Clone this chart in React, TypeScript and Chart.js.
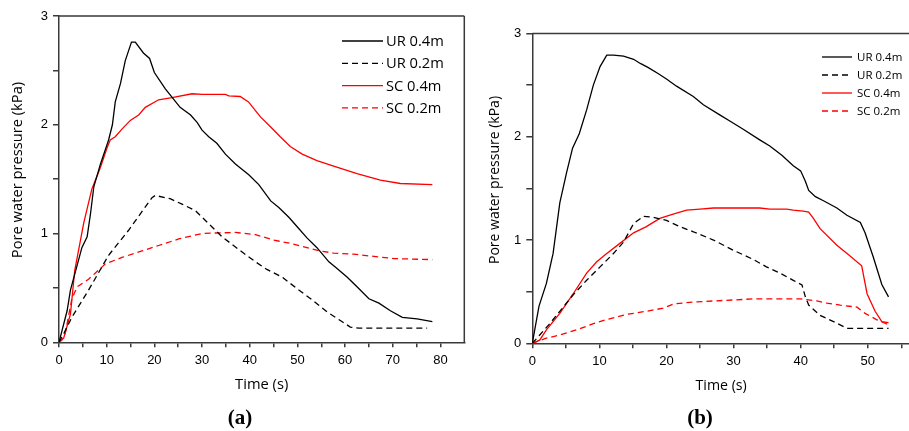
import React, { useEffect, useRef } from "react";
import { Chart, registerables } from "chart.js";

Chart.register(...registerables);

// ---------- Panel (a) data ----------
const aUR04_t = [0, 1.7, 2.4, 4.8, 5.9, 6.6, 7.3, 8.7, 10.4, 11.2, 11.8, 12.9, 13.9, 15.2, 16, 17.7, 19, 20, 22.3, 25.4, 27.6, 29, 30, 31.4, 33.1, 34.9, 37, 38.1, 39.8, 41.9, 44.4, 46.1, 48.2, 50, 52, 54.1, 56.6, 58, 60.4, 62.5, 65, 67.1, 69.5, 72, 75.1, 78.3];
const aUR04_p = [0, 0.29, 0.48, 0.87, 0.97, 1.18, 1.43, 1.64, 1.86, 2.0, 2.21, 2.38, 2.59, 2.76, 2.76, 2.66, 2.61, 2.48, 2.33, 2.16, 2.09, 2.02, 1.95, 1.89, 1.83, 1.73, 1.64, 1.6, 1.54, 1.45, 1.3, 1.24, 1.15, 1.06, 0.96, 0.87, 0.74, 0.69, 0.6, 0.51, 0.4, 0.36, 0.29, 0.23, 0.215, 0.19];

const aUR02_t = [0, 1, 2.7, 6.2, 10.4, 14.6, 19.5, 20.2, 23.3, 25.8, 28.6, 31.4, 34.2, 38.4, 41.2, 43.6, 46.8, 50, 53.1, 56.2, 59, 61.1, 62.9, 77.2];
const aUR02_p = [0, 0.08, 0.23, 0.48, 0.8, 1.03, 1.33, 1.35, 1.32, 1.27, 1.21, 1.09, 0.97, 0.83, 0.74, 0.67, 0.6, 0.49, 0.39, 0.28, 0.2, 0.14, 0.13, 0.13];

const aSC04_t = [0, 1, 2.4, 3.3, 5.2, 6.9, 8.7, 10.1, 10.75, 11.8, 13.2, 14.95, 16.7, 18.1, 20.9, 23.7, 27.9, 30, 34.9, 35.6, 38, 39.75, 41.2, 42.3, 44.4, 46.4, 48.5, 51, 54.1, 57.6, 62.5, 67.4, 71.6, 78.3];
const aSC04_p = [0, 0.04, 0.26, 0.66, 1.1, 1.41, 1.61, 1.79, 1.86, 1.89, 1.96, 2.04, 2.09, 2.16, 2.23, 2.25, 2.285, 2.28, 2.28, 2.265, 2.26, 2.21, 2.13, 2.07, 1.98, 1.89, 1.8, 1.73, 1.67, 1.62, 1.55, 1.49, 1.46, 1.45];

const aSC02_t = [0, 0.6, 1.3, 2.7, 3.8, 6.2, 9.7, 13.2, 17.4, 20.9, 25.1, 30, 32.8, 37, 41.2, 45, 48.5, 52, 54.8, 57.6, 61.8, 66, 70.2, 78.3];
const aSC02_p = [0, 0.02, 0.08, 0.4, 0.51, 0.58, 0.72, 0.78, 0.84, 0.89, 0.95, 1.0, 1.005, 1.01, 0.99, 0.94, 0.91, 0.87, 0.84, 0.82, 0.81, 0.79, 0.77, 0.76];

// ---------- Panel (b) data ----------
const bUR04_t = [0, 1, 2.1, 3.1, 4.1, 5.1, 6.0, 7.0, 8.1, 9.1, 10.1, 11.1, 12.1, 13.6, 15.1, 16.1, 17.3, 18.8, 20, 21.5, 24, 25.5, 28, 29.5, 31.5, 33.9, 35.4, 37.2, 38.9, 40, 40.7, 41.2, 42.2, 43.4, 45.4, 46.9, 48.9, 49.6, 50.8, 52.1, 53.1];
const bUR04_p = [0, 0.36, 0.58, 0.87, 1.36, 1.65, 1.89, 2.03, 2.26, 2.5, 2.68, 2.79, 2.79, 2.78, 2.75, 2.71, 2.67, 2.61, 2.56, 2.49, 2.39, 2.31, 2.21, 2.15, 2.07, 1.97, 1.91, 1.82, 1.72, 1.67, 1.57, 1.48, 1.42, 1.38, 1.31, 1.24, 1.17, 1.07, 0.84, 0.57, 0.45];

const bUR02_t = [0, 1.1, 2.6, 4.1, 6.1, 8.1, 10.1, 12.1, 13.6, 15.1, 16.6, 18.0, 20, 22, 24, 27, 30, 33, 34.9, 36.9, 38.9, 40.2, 40.7, 41.2, 42.9, 44.9, 46.9, 48.9, 53.1];
const bUR02_p = [0, 0.08, 0.19, 0.31, 0.47, 0.61, 0.74, 0.87, 0.98, 1.16, 1.23, 1.22, 1.19, 1.13, 1.08, 1.0, 0.9, 0.81, 0.74, 0.68, 0.61, 0.565, 0.45, 0.37, 0.27, 0.21, 0.145, 0.145, 0.145];

const bSC04_t = [0, 1.1, 2.1, 4.1, 6.1, 8.1, 9.6, 11.1, 13.1, 15.1, 17.0, 19.0, 21.0, 23.0, 25, 27, 29, 33.9, 35.4, 37.9, 38.9, 40.4, 41.2, 41.9, 42.9, 45.4, 47.1, 49.1, 49.9, 51.1, 52.1, 53.1];
const bSC04_p = [0, 0.03, 0.13, 0.29, 0.48, 0.68, 0.79, 0.87, 0.97, 1.07, 1.13, 1.21, 1.25, 1.29, 1.3, 1.31, 1.31, 1.31, 1.3, 1.3, 1.29, 1.28, 1.27, 1.21, 1.11, 0.95, 0.86, 0.75, 0.48, 0.31, 0.21, 0.2];

const bSC02_t = [0, 2.1, 4.1, 6.6, 9.1, 11.1, 14.1, 17, 19.5, 21, 24, 27, 30, 33, 36.9, 40, 42.4, 43.9, 45.9, 48.4, 49.6, 51.3, 53.1];
const bSC02_p = [0, 0.05, 0.08, 0.13, 0.19, 0.23, 0.28, 0.31, 0.34, 0.38, 0.4, 0.41, 0.42, 0.43, 0.43, 0.43, 0.41, 0.39, 0.37, 0.35, 0.29, 0.23, 0.18];

const seriesLabels = ["UR 0.4m", "UR 0.2m", "SC 0.4m", "SC 0.2m"];
const seriesColors = ["#000000", "#000000", "#ff0000", "#ff0000"];
const seriesDashed = [false, true, false, true];

const xTitle = "Time (s)";
const yTitle = "Pore water pressure (kPa)";

const AXIS_COLOR = "#3a3a3a";
const TICK_FONT = { family: "'Liberation Sans', Arial, sans-serif", size: 13 };

const framePlugin = {
  id: "frame",
  afterDraw(chart: any, _args: any, opts: any) {
    const { ctx, chartArea } = chart;
    const { left, right, top, bottom } = chartArea;
    ctx.save();
    ctx.strokeStyle = AXIS_COLOR;
    ctx.lineWidth = 1.5;
    ctx.beginPath();
    ctx.moveTo(left, top);
    ctx.lineTo(right, top);
    if (opts.right) {
      ctx.moveTo(right, top);
      ctx.lineTo(right, bottom);
    }
    ctx.stroke();
    ctx.restore();
  },
};

const legendPlugin = {
  id: "innerLegend",
  afterDraw(chart: any, _args: any, opts: any) {
    const { ctx } = chart;
    ctx.save();
    ctx.font = `${opts.fontSize}px 'Open Sans', sans-serif`;
    ctx.textBaseline = "middle";
    ctx.textAlign = "left";
    chart.data.datasets.forEach((ds: any, i: number) => {
      const y = opts.y + i * opts.gap;
      ctx.strokeStyle = ds.borderColor;
      ctx.lineWidth = 1.3;
      ctx.setLineDash(ds.borderDash || []);
      ctx.beginPath();
      ctx.moveTo(opts.x1, y);
      ctx.lineTo(opts.x2, y);
      ctx.stroke();
      ctx.setLineDash([]);
      ctx.fillStyle = "#000";
      ctx.fillText(ds.label, opts.tx, y + 1);
    });
    ctx.restore();
  },
};

const textPlugin = {
  id: "panelText",
  afterDraw(chart: any, _args: any, opts: any) {
    const { ctx } = chart;
    ctx.save();
    // y-axis title
    ctx.fillStyle = "#000";
    ctx.font = `${opts.yFont}px 'Open Sans', sans-serif`;
    ctx.textAlign = "center";
    ctx.textBaseline = "middle";
    ctx.translate(opts.yx, opts.yy);
    ctx.rotate(-Math.PI / 2);
    ctx.fillText(opts.yText, 0, 0);
    ctx.restore();
    ctx.save();
    ctx.fillStyle = "#000";
    ctx.font = "bold 21px 'Liberation Serif', 'Times New Roman', serif";
    ctx.textAlign = "center";
    ctx.textBaseline = "alphabetic";
    ctx.fillText(opts.label, opts.lx, opts.ly);
    ctx.restore();
  },
};

type PanelProps = {
  left: number;
  width: number;
  times: number[][];
  values: number[][];
  xMax: number;
  xLast: number;
  padTop: number;
  padRight: number;
  yWidth: number;
  xHeight: number;
  titleFont: number;
  titlePadBottom: number;
  legend: any;
  text: any;
  rightBorder: boolean;
};

function Panel(p: PanelProps) {
  const ref = useRef<HTMLCanvasElement | null>(null);
  useEffect(() => {
    if (!ref.current) return;
    const datasets = seriesLabels.map((label, i) => ({
      label,
      data: p.times[i].map((t, k) => ({ x: t, y: p.values[i][k] })),
      borderColor: seriesColors[i],
      backgroundColor: seriesColors[i],
      borderDash: seriesDashed[i] ? [6, 4] : [],
      borderWidth: 1.3,
      pointRadius: 0,
      tension: 0,
      fill: false,
    }));
    const isInt = (v: number) => Math.abs(v - Math.round(v)) < 1e-6;
    const chart = new Chart(ref.current, {
      type: "line",
      data: { datasets },
      plugins: [framePlugin, legendPlugin, textPlugin],
      options: {
        animation: false,
        responsive: false,
        maintainAspectRatio: false,
        layout: { padding: { top: p.padTop, right: p.padRight, left: 0, bottom: 0 } },
        plugins: {
          legend: { display: false },
          tooltip: { enabled: false },
          frame: { right: p.rightBorder },
          innerLegend: p.legend,
          panelText: p.text,
        } as any,
        scales: {
          x: {
            type: "linear",
            min: 0,
            max: p.xMax,
            afterFit: (s: any) => {
              s.height = p.xHeight;
            },
            afterBuildTicks: (s: any) => {
              s.ticks = s.ticks.filter((t: any) => t.value <= p.xLast + 1e-6);
            },
            ticks: {
              stepSize: 5,
              includeBounds: false,
              autoSkip: false,
              maxRotation: 0,
              padding: 5,
              color: "#000",
              font: TICK_FONT,
              callback: (v: any) => (Math.abs(v / 10 - Math.round(v / 10)) < 1e-6 ? String(Math.round(v)) : ""),
            },
            grid: { drawOnChartArea: false, drawTicks: true, tickLength: 5, color: AXIS_COLOR, lineWidth: 1.5 },
            border: { display: true, color: AXIS_COLOR, width: 1.5 },
            title: {
              display: true,
              text: xTitle,
              color: "#000",
              font: { family: "'Open Sans', sans-serif", size: p.titleFont },
              padding: { top: 0, bottom: p.titlePadBottom },
            },
          },
          y: {
            type: "linear",
            min: 0,
            max: 3,
            afterFit: (s: any) => {
              s.width = p.yWidth;
            },
            ticks: {
              stepSize: 0.5,
              includeBounds: false,
              autoSkip: false,
              padding: 5,
              color: "#000",
              font: TICK_FONT,
              callback: (v: any) => (isInt(v) ? String(Math.round(v)) : ""),
            },
            grid: { drawOnChartArea: false, drawTicks: true, tickLength: 6, color: AXIS_COLOR, lineWidth: 1.5 },
            border: { display: true, color: AXIS_COLOR, width: 1.5 },
          },
        },
      } as any,
    });
    return () => chart.destroy();
  }, []);
  return (
    <canvas
      ref={ref}
      width={p.width}
      height={431}
      style={{ position: "absolute", left: p.left, top: 0, width: p.width, height: 431 }}
    />
  );
}

export default function App() {
  return (
    <div
      style={{
        position: "fixed",
        left: 0,
        top: 0,
        width: 909,
        height: 431,
        overflow: "hidden",
        background: "#fff",
      }}
    >
      <Panel
        left={0}
        width={466}
        times={[aUR04_t, aUR02_t, aSC04_t, aSC02_t]}
        values={[aUR04_p, aUR02_p, aSC04_p, aSC02_p]}
        xMax={85}
        xLast={80}
        padTop={16}
        padRight={1.7}
        yWidth={59}
        xHeight={88.7}
        titleFont={14.7}
        titlePadBottom={37}
        rightBorder={true}
        legend={{ x1: 342, x2: 383, tx: 386, y: 41, gap: 22.3, fontSize: 14.7 }}
        text={{ yText: yTitle, yx: 18, yy: 170, yFont: 14.7, label: "(a)", lx: 240, ly: 424 }}
      />
      <Panel
        left={466}
        width={446}
        times={[bUR04_t, bUR02_t, bSC04_t, bSC02_t]}
        values={[bUR04_p, bUR02_p, bSC04_p, bSC02_p]}
        xMax={56.3}
        xLast={55}
        padTop={33.5}
        padRight={2}
        yWidth={66.3}
        xHeight={87.7}
        titleFont={14.2}
        titlePadBottom={37}
        rightBorder={false}
        legend={{ x1: 356, x2: 386, tx: 391, y: 57, gap: 18, fontSize: 11.5 }}
        text={{ yText: yTitle, yx: 29, yy: 180, yFont: 14, label: "(b)", lx: 234, ly: 424 }}
      />
    </div>
  );
}
